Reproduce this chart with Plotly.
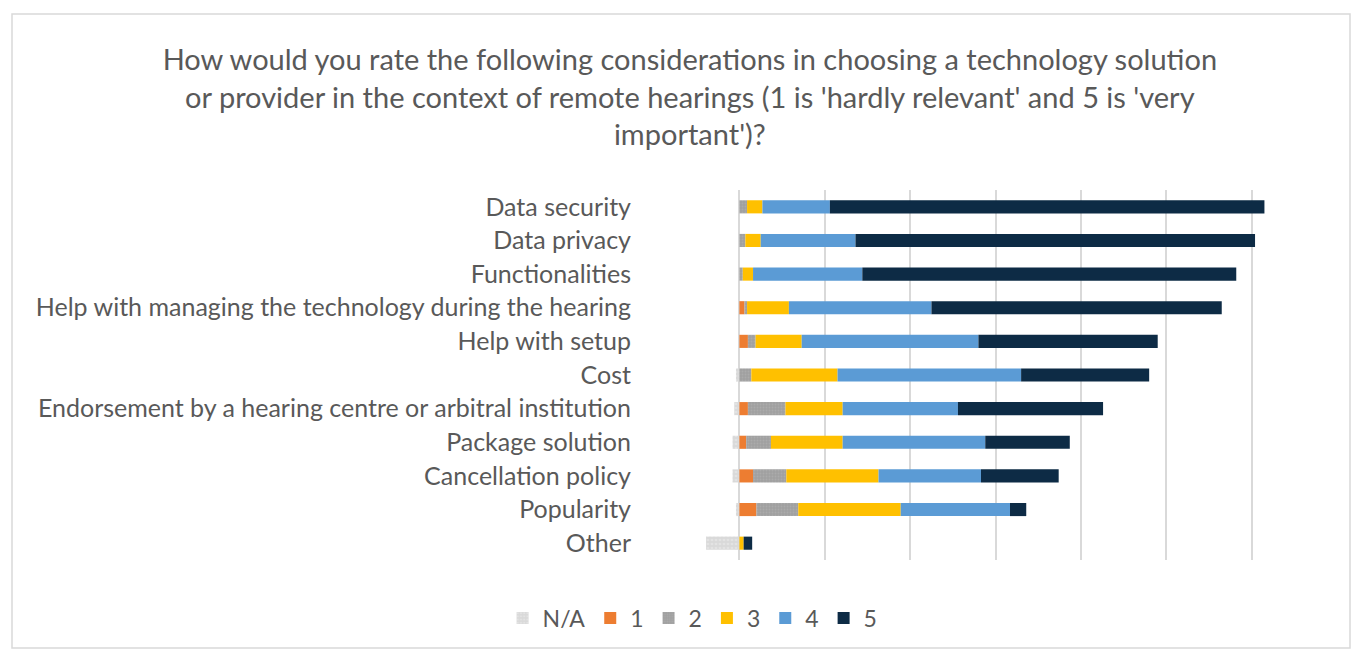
import plotly.graph_objects as go

categories = ["Data security", "Data privacy", "Functionalities",
              "Help with managing the technology during the hearing",
              "Help with setup", "Cost",
              "Endorsement by a hearing centre or arbitral institution",
              "Package solution", "Cancellation policy", "Popularity", "Other"]

series_names = ["N/A", "1", "2", "3", "4", "5"]
na_vals = [0, 0, 0, 0, 0, 0.4, 0.6, 0.8, 0.8, 0.4, 3.9]
r1_vals = [0, 0, 0, 0.6, 1.0, 0, 1.0, 0.8, 1.6, 2.0, 0]
r2_vals = [0.9, 0.7, 0.4, 0.3, 0.9, 1.4, 4.4, 2.9, 3.9, 4.9, 0]
r3_vals = [1.8, 1.8, 1.2, 4.9, 5.4, 10.1, 6.7, 8.4, 10.8, 12.0, 0.5]
r4_vals = [7.9, 11.1, 12.8, 16.7, 20.7, 21.5, 13.5, 16.7, 12.0, 12.8, 0]
r5_vals = [50.9, 46.8, 43.8, 34.0, 21.0, 15.0, 17.0, 9.9, 9.1, 1.9, 1.0]

colors = ["#d9d9d9", "#ed7d31", "#a5a5a5", "#ffc000", "#5b9bd5", "#0d2b45"]
patterns = [dict(shape=".", fgcolor="#eeeeee", bgcolor="#d9d9d9", size=4, solidity=0.35),
            None,
            dict(shape=".", fgcolor="#b5b5b5", bgcolor="#a0a0a0", size=3, solidity=0.3),
            None, None, None]

fig = go.Figure()
all_vals = [[-v for v in na_vals], r1_vals, r2_vals, r3_vals, r4_vals, r5_vals]
for name, vals, col, pat in zip(series_names, all_vals, colors, patterns):
    marker = dict(color=col, line=dict(width=0))
    if pat:
        marker["pattern"] = pat
    fig.add_trace(go.Bar(y=categories, x=vals, name=name, orientation="h",
                         marker=marker))

W, H = 1358, 655
L, R, T, B = 654, 21, 190, 95
pw, ph = W - L - R, H - T - B

fig.update_layout(
    width=W, height=H,
    barmode="relative", bargap=0.61,
    paper_bgcolor="white", plot_bgcolor="white",
    margin=dict(l=L, r=R, t=T, b=B),
    font=dict(family="Lato, 'Open Sans', sans-serif", color="#595959"),
    title=dict(
        text="How would you rate the following considerations in choosing a technology solution<br>"
             "or provider in the context of remote hearings (1 is 'hardly relevant' and 5 is 'very<br>"
             "important')?",
        x=0.508, xanchor="center", xref="container",
        y=1 - 70 / H, yanchor="top", yref="container",
        font=dict(size=29, color="#595959")),
    xaxis=dict(range=[-10, 70], dtick=10, tick0=0, showticklabels=False,
               showgrid=True, gridcolor="#d9d9d9", gridwidth=2,
               zeroline=False, showline=False, ticks=""),
    yaxis=dict(autorange="reversed", showgrid=False, ticks="",
               tickfont=dict(size=25, color="#595959"), ticklabelstandoff=22,
               showline=False, zeroline=False),
    legend=dict(orientation="h", xref="container", x=0.51, xanchor="center",
                yref="container", y=1 - 618 / H, yanchor="middle",
                font=dict(size=23, color="#595959"), traceorder="normal"),
    shapes=[dict(type="rect", xref="paper", yref="paper",
                 x0=(12 - L) / pw, x1=(1350 - L) / pw,
                 y0=(H - B - 648) / ph, y1=(H - B - 14) / ph,
                 line=dict(color="#d9d9d9", width=1.5), fillcolor="rgba(0,0,0,0)",
                 layer="below")],
)

fig.write_html("out.html", config={"displayModeBar": False},
               post_script="document.body.style.margin='0';")
